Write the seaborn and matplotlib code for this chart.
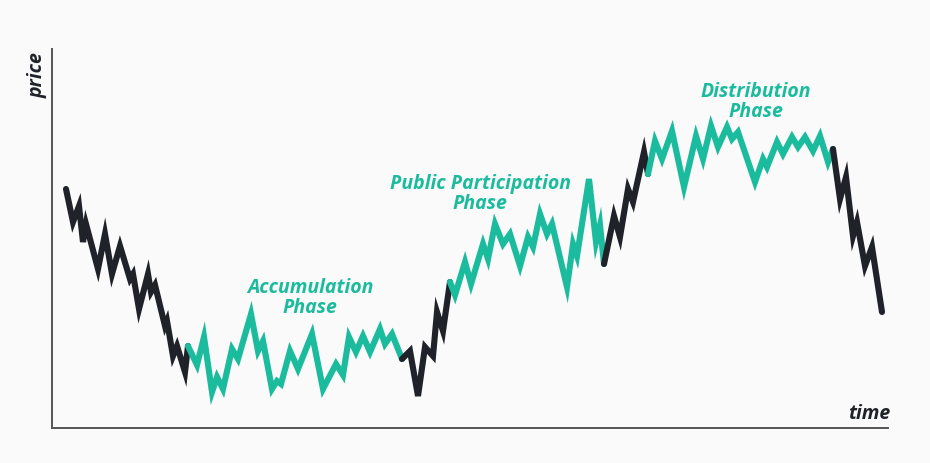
import numpy as np
import pandas as pd
import matplotlib
matplotlib.use("Agg")
import matplotlib.pyplot as plt
import seaborn as sns

# price path (time, price)
time = [66, 73, 79, 83, 86, 98, 105, 112, 120, 130, 133, 139, 148, 151, 155, 165, 167, 173, 177, 185,
        188, 197, 204, 212, 217, 223, 232, 238, 251, 258, 263, 272, 277, 281, 290, 298, 312, 323, 336, 343,
        349, 356, 363, 370, 380, 385, 392, 402, 410, 418, 425, 433, 437, 443, 450, 455, 465, 471, 483, 488,
        495, 503, 510, 520, 528, 533, 540, 547, 552, 567, 573, 577, 589, 596, 600, 604, 614, 620, 628, 633,
        644, 648, 655, 662, 672, 684, 696, 703, 711, 718, 727, 732, 738, 755, 763, 767, 777, 783, 792, 798,
        805, 813, 820, 828, 833, 840, 846, 853, 857, 865, 872, 882]
price_px = [190, 223, 207, 243, 225, 270, 235, 275, 247, 280, 275, 310, 275, 293, 286, 327, 322, 357, 347, 373,
            347, 366, 338, 393, 378, 390, 350, 360, 315, 352, 342, 390, 382, 385, 352, 370, 335, 390, 365, 376,
            338, 353, 337, 353, 330, 345, 335, 360, 352, 397, 348, 357, 313, 332, 283, 296, 263, 285, 245, 260,
            225, 245, 235, 267, 238, 248, 215, 235, 225, 288, 245, 257, 180, 243, 226, 265, 217, 238, 190, 203,
            153, 175, 142, 160, 132, 188, 137, 160, 127, 148, 128, 140, 133, 183, 160, 168, 143, 155, 138, 148,
            138, 152, 137, 163, 150, 200, 178, 237, 223, 267, 248, 313]
price = [429 - v for v in price_px]

phase_labels = ["Accumulation\nPhase", "Public Participation\nPhase", "Distribution\nPhase"]
phase_label_time = [310, 480, 756]
phase_label_price = [429 - 298, 429 - 194, 429 - 102]

# segment midpoints between these times are teal, otherwise dark
teal_from = [188, 452, 651]
teal_to = [406, 608, 836]

DARK = "#1f2229"
TEAL = "#1bbb9e"
BG = "#fafafa"

sns.set_style("white")
plt.rcParams["font.family"] = ["Open Sans", "Roboto", "DejaVu Sans"]

fig = plt.figure(figsize=(9.3, 4.64), dpi=100, facecolor=BG)
ax = fig.add_axes([52 / 930, (464 - 429) / 464, (888 - 52) / 930, (429 - 50) / 464])
ax.set_facecolor(BG)

t = np.array(time, dtype=float)
p = np.array(price, dtype=float)
mid = (t[:-1] + t[1:]) / 2
is_teal = np.zeros(len(mid), dtype=bool)
for a, b in zip(teal_from, teal_to):
    is_teal |= (mid > a) & (mid < b)

# contiguous runs of one colour
run_id = np.cumsum(np.r_[0, np.diff(is_teal.astype(int)) != 0])
rows = []
for r in np.unique(run_id):
    segs = np.where(run_id == r)[0]
    for i in range(segs[0], segs[-1] + 2):
        rows.append({"time": t[i], "price": p[i], "run": int(r)})
df = pd.DataFrame(rows)
palette = {int(r): (TEAL if is_teal[run_id == r][0] else DARK) for r in np.unique(run_id)}
sns.lineplot(data=df, x="time", y="price", hue="run", palette=palette, estimator=None,
             sort=False, legend=False, lw=4.4, solid_joinstyle="miter",
             solid_capstyle="round", ax=ax)

for lab, x, y in zip(phase_labels, phase_label_time, phase_label_price):
    ax.text(x, y, lab, color=TEAL, fontsize=14, fontweight="bold", fontstyle="italic",
            ha="center", va="center", linespacing=1.05)

ax.set_xlim(52, 888)
ax.set_ylim(0, 379)
ax.set_xticks([])
ax.set_yticks([])
ax.set_xlabel("")
ax.set_ylabel("")
for s in ["top", "right"]:
    ax.spines[s].set_visible(False)
for s in ["left", "bottom"]:
    ax.spines[s].set_color("#555555")
    ax.spines[s].set_linewidth(1.4)

fig.text(38 / 930, 1 - 75 / 464, "price", rotation=90, color=DARK, fontsize=14,
         fontweight="bold", fontstyle="italic", ha="center", va="center")
fig.text(869 / 930, 1 - 414 / 464, "time", color=DARK, fontsize=14,
         fontweight="bold", fontstyle="italic", ha="center", va="center")

fig.savefig("out.png", dpi=100, facecolor=BG)
